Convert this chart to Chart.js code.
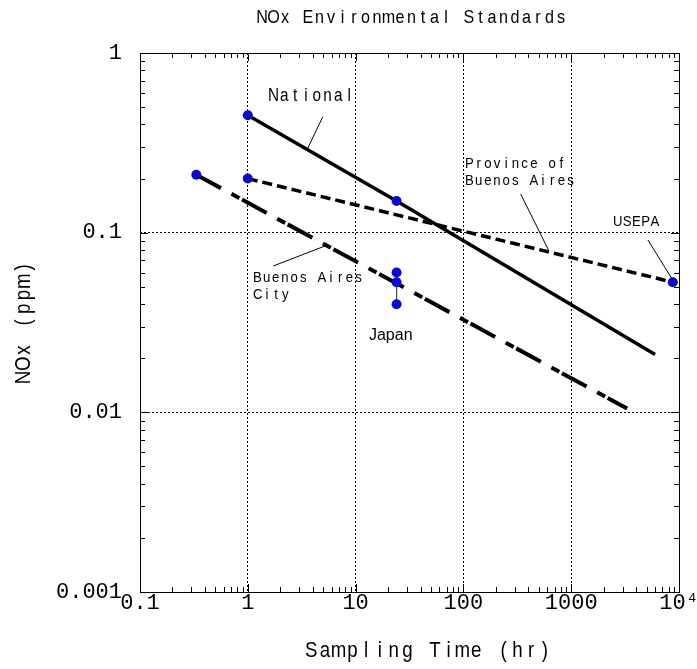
<!DOCTYPE html>
<html><head><meta charset="utf-8">
<script src="https://cdn.jsdelivr.net/npm/chart.js@4/dist/chart.umd.min.js"></script>
<style>html,body{margin:0;padding:0;background:#fff}canvas{display:block}</style>
</head><body>
<canvas id="c" width="697" height="669" style="width:697px;height:669px"></canvas>
<script>
// ---- data ----
const xTickValues = [0.1, 1, 10, 100, 1000, 10000];
const xTickLabels = ['0.1', '1', '10', '100', '1000', '10⁴'];
const yTickValues = [0.001, 0.01, 0.1, 1];
const yTickLabels = ['0.001', '0.01', '0.1', '1'];

const nationalX = [1, 24, 6000];
const nationalY = [0.45, 0.15, 0.021];
const provinceX = [1, 8760];
const provinceY = [0.2, 0.053];
const cityX = [0.333, 3300];
const cityY = [0.21, 0.0105];
const japanX = [24, 24, 24];
const japanY = [0.06, 0.053, 0.04];
const usepaX = [8760];
const usepaY = [0.053];

const titleText = 'NOx Environmental Standards';
const xTitleText = 'Sampling Time (hr)';
const yTitleText = 'NOx (ppm)';

// annotation labels, anchored in data units (left edge, first line centre)
const notes = [
  {lines: ['National'], x: 1.54, y: 0.576, size: 18, adv: 10.8},
  {lines: ['Province of', 'Buenos Aires'], x: 103.5, y: 0.241, size: 15.5, adv: 9.2},
  {lines: ['USEPA'], x: 2445, y: 0.1147, size: 15.5, adv: 9.3},
  {lines: ['Buenos Aires', 'City'], x: 1.117, y: 0.056, size: 15.5, adv: 9.2},
  {lines: ['Japan'], x: 13.3, y: 0.0266, size: 16, sans: true}
];
const leaders = [
  {x1: 4.96, y1: 0.442, x2: 3.60, y2: 0.295},
  {x1: 340, y1: 0.164, x2: 622, y2: 0.079},
  {x1: 5150, y1: 0.091, x2: 8750, y2: 0.0545},
  {x1: 1.72, y1: 0.0652, x2: 5.2, y2: 0.0843}
];

const pts = (xs, ys) => xs.map((x, i) => ({x, y: ys[i]}));
const MONO = "'Liberation Mono', 'DejaVu Sans Mono', monospace";
const SANS = "'Liberation Sans', Arial, sans-serif";
const BLUE = '#0a0ad2';
const SX = 0.85; // horizontal squeeze of the narrow glyphs

Chart.defaults.font.family = MONO;
Chart.defaults.color = '#000';

// text in a narrow sans face on a fixed character pitch (like the reference)
function pitchText(ctx, text, x, y, size, adv, align) {
  ctx.font = size + 'px ' + SANS;
  const n = text.length;
  let x0;
  if (align === 'center') {
    x0 = x - n * adv / 2;
  } else {
    const w0 = ctx.measureText(text[0]).width * SX;
    x0 = x - (adv - w0) / 2;
  }
  for (let i = 0; i < n; i++) {
    if (text[i] === ' ') continue;
    ctx.save();
    ctx.translate(x0 + i * adv + adv / 2, y);
    ctx.scale(SX, 1);
    ctx.textAlign = 'center';
    ctx.textBaseline = 'middle';
    ctx.fillText(text[i], 0, 0);
    ctx.restore();
  }
}

const decor = {
  id: 'decor',
  afterDraw(chart) {
    const ctx = chart.ctx;
    const xs = chart.scales.x, ys = chart.scales.y;
    const a = chart.chartArea;
    ctx.save();
    // frame
    ctx.strokeStyle = '#000';
    ctx.lineWidth = 1;
    ctx.setLineDash([]);
    ctx.strokeRect(Math.round(a.left) + 0.5, Math.round(a.top) + 0.5,
                   Math.round(a.right) - Math.round(a.left), Math.round(a.bottom) - Math.round(a.top));
    // inward ticks
    ctx.beginPath();
    for (let d = 0.1; d < 10000; d *= 10) {
      for (let k = 1; k <= 9; k++) {
        const p = Math.round(xs.getPixelForValue(k * d)) + 0.5;
        const len = k === 1 ? 8 : 5;
        ctx.moveTo(p, a.bottom); ctx.lineTo(p, a.bottom - len);
        ctx.moveTo(p, a.top); ctx.lineTo(p, a.top + len);
      }
    }
    for (let d = 0.001; d < 1; d *= 10) {
      for (let k = 1; k <= 9; k++) {
        const p = Math.round(ys.getPixelForValue(k * d)) + 0.5;
        const len = k === 1 ? 8 : 5;
        ctx.moveTo(a.left, p); ctx.lineTo(a.left + len, p);
        ctx.moveTo(a.right, p); ctx.lineTo(a.right - len, p);
      }
    }
    ctx.stroke();
    // leader lines
    ctx.beginPath();
    leaders.forEach(l => {
      ctx.moveTo(xs.getPixelForValue(l.x1), ys.getPixelForValue(l.y1));
      ctx.lineTo(xs.getPixelForValue(l.x2), ys.getPixelForValue(l.y2));
    });
    ctx.stroke();
    // annotation text
    ctx.fillStyle = '#000';
    notes.forEach(n => {
      const x0 = xs.getPixelForValue(n.x);
      const y0 = ys.getPixelForValue(n.y);
      n.lines.forEach((t, i) => {
        if (n.sans) {
          ctx.font = n.size + 'px ' + SANS;
          ctx.textAlign = 'left';
          ctx.textBaseline = 'middle';
          ctx.fillText(t, x0, y0 + i * 17);
        } else {
          pitchText(ctx, t, x0, y0 + i * 17, n.size, n.adv, 'left');
        }
      });
    });
    // titles
    pitchText(ctx, titleText, (a.left + a.right) / 2 + 2, 18, 19, 11.5, 'center');
    pitchText(ctx, xTitleText, 428, 651, 22, 13.75, 'center');
    ctx.translate(24, (a.top + a.bottom) / 2);
    ctx.rotate(-Math.PI / 2);
    pitchText(ctx, yTitleText, 0, 0, 22, 13.75, 'center');
    ctx.restore();
  }
};

new Chart(document.getElementById('c'), {
  type: 'scatter',
  data: {
    datasets: [
      {label: 'USEPA', data: pts(usepaX, usepaY), pointRadius: 5, pointBackgroundColor: BLUE,
       pointBorderWidth: 0, showLine: false},
      {label: 'Japan', data: pts(japanX, japanY), showLine: true, borderColor: '#444', borderWidth: 1,
       pointRadius: 5, pointBackgroundColor: BLUE, pointBorderWidth: 0},
      {label: 'National', data: pts(nationalX, nationalY), showLine: true, borderColor: '#000',
       borderWidth: 3.5, pointRadius: [5, 5, 0], pointBackgroundColor: BLUE, pointBorderWidth: 0},
      {label: 'Province of Buenos Aires', data: pts(provinceX, provinceY), showLine: true, borderColor: '#000',
       borderWidth: 3.5, borderDash: [10, 5], pointRadius: [5, 0], pointBackgroundColor: BLUE, pointBorderWidth: 0},
      {label: 'Buenos Aires City', data: pts(cityX, cityY), showLine: true, borderColor: '#000',
       borderWidth: 4, borderDash: [28, 12, 9, 3], pointRadius: [5, 0], pointBackgroundColor: BLUE, pointBorderWidth: 0}
    ]
  },
  options: {
    responsive: false,
    animation: false,
    events: [],
    layout: {padding: {top: 53, right: 18, left: 0, bottom: 0}},
    plugins: {legend: {display: false}, tooltip: {enabled: false}, title: {display: false}},
    scales: {
      x: {
        type: 'logarithmic', min: 0.1, max: 10000,
        afterBuildTicks: s => { s.ticks = xTickValues.map(v => ({value: v})); },
        afterFit: s => { s.height = 77; s.paddingLeft = 0; s.paddingRight = 0; },
        ticks: {autoSkip: false, maxRotation: 0, padding: 0, font: {size: 22, lineHeight: 1},
                callback: v => { const i = xTickValues.indexOf(v); return i >= 0 ? xTickLabels[i] : ''; }},
        grid: {color: '#000', lineWidth: 1, drawTicks: false},
        border: {display: false, dash: [2, 2]}
      },
      y: {
        type: 'logarithmic', min: 0.001, max: 1,
        afterBuildTicks: s => { s.ticks = yTickValues.map(v => ({value: v})); },
        afterFit: s => { s.width = 140; s.paddingTop = 0; s.paddingBottom = 0; },
        ticks: {autoSkip: false, padding: 18, font: {size: 22, lineHeight: 1},
                callback: v => { const i = yTickValues.indexOf(v); return i >= 0 ? yTickLabels[i] : ''; }},
        grid: {color: '#000', lineWidth: 1, drawTicks: false},
        border: {display: false, dash: [2, 2]}
      }
    }
  },
  plugins: [decor]
});
</script>
</body></html>
